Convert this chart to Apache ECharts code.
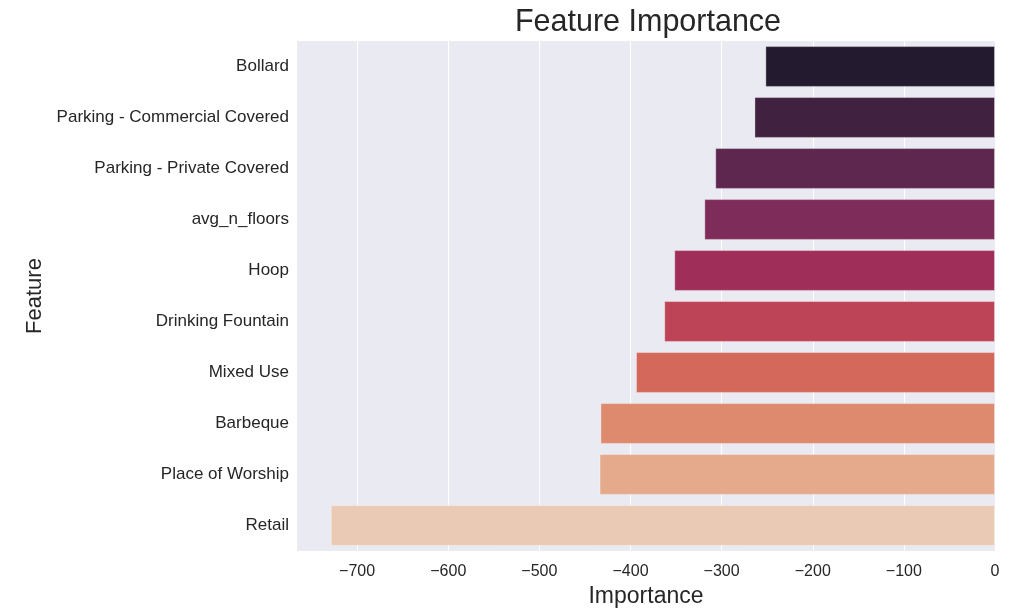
<!DOCTYPE html>
<html>
<head>
<meta charset="utf-8">
<script src="https://cdn.jsdelivr.net/npm/echarts@6/dist/echarts.min.js"></script>
<style>html,body{margin:0;padding:0;background:#fff;}#c{width:1022px;height:615px;}</style>
</head>
<body>
<div id="c"></div>
<script>
const categories = ["Bollard", "Parking - Commercial Covered", "Parking - Private Covered", "avg_n_floors", "Hoop", "Drinking Fountain", "Mixed Use", "Barbeque", "Place of Worship", "Retail"];
const importance = [-252, -264, -307, -319, -352, -363, -394, -433, -434, -729];
const barColors = ["#241a2f", "#40213f", "#5d274f", "#7e2c5a", "#9f2f59", "#bd4357", "#d4685a", "#dd8a6e", "#e5a98b", "#ebcab5"];
const xTicks = [-700, -600, -500, -400, -300, -200, -100, 0];

const font = "'Liberation Sans', Arial, sans-serif";
const chart = echarts.init(document.getElementById('c'), null, {renderer: 'canvas'});
chart.setOption({
  animation: false,
  backgroundColor: '#ffffff',
  title: {
    text: 'Feature Importance', left: 643, top: 2, textAlign: 'center',
    textStyle: {fontFamily: font, fontSize: 30.5, fontWeight: 'normal', color: '#262626'}
  },
  grid: {left: 297, right: 27, top: 41, bottom: 64, show: true, backgroundColor: '#eaeaf2', borderWidth: 0},
  xAxis: {
    type: 'value', min: -766, max: 0, splitNumber: 8,
    name: 'Importance', nameLocation: 'middle', nameGap: 25,
    nameTextStyle: {fontFamily: font, fontSize: 23, color: '#262626'},
    axisLine: {show: false}, axisTick: {show: false},
    axisLabel: {
      fontFamily: font, fontSize: 16, color: '#262626', margin: 13,
      showMinLabel: false,
      formatter: v => xTicks.indexOf(v) >= 0 ? String(v).replace('-', '\u2212') : ''
    },
    splitLine: {show: true, showMinLine: false, lineStyle: {color: '#ffffff', width: 1}}
  },
  yAxis: {
    type: 'category', data: categories, inverse: true,
    name: 'Feature', nameLocation: 'middle', nameGap: 243, nameRotate: 90,
    nameTextStyle: {fontFamily: font, fontSize: 22, color: '#262626'},
    axisLine: {show: false}, axisTick: {show: false},
    axisLabel: {fontFamily: font, fontSize: 17, color: '#262626', margin: 8},
    splitLine: {show: false}
  },
  series: [{
    type: 'bar', barCategoryGap: '20%',
    data: importance.map((v, i) => ({value: v, itemStyle: {color: barColors[i]}})),
    itemStyle: {borderColor: 'rgba(255,255,255,0.35)', borderWidth: 1}
  }]
});
</script>
</body>
</html>
